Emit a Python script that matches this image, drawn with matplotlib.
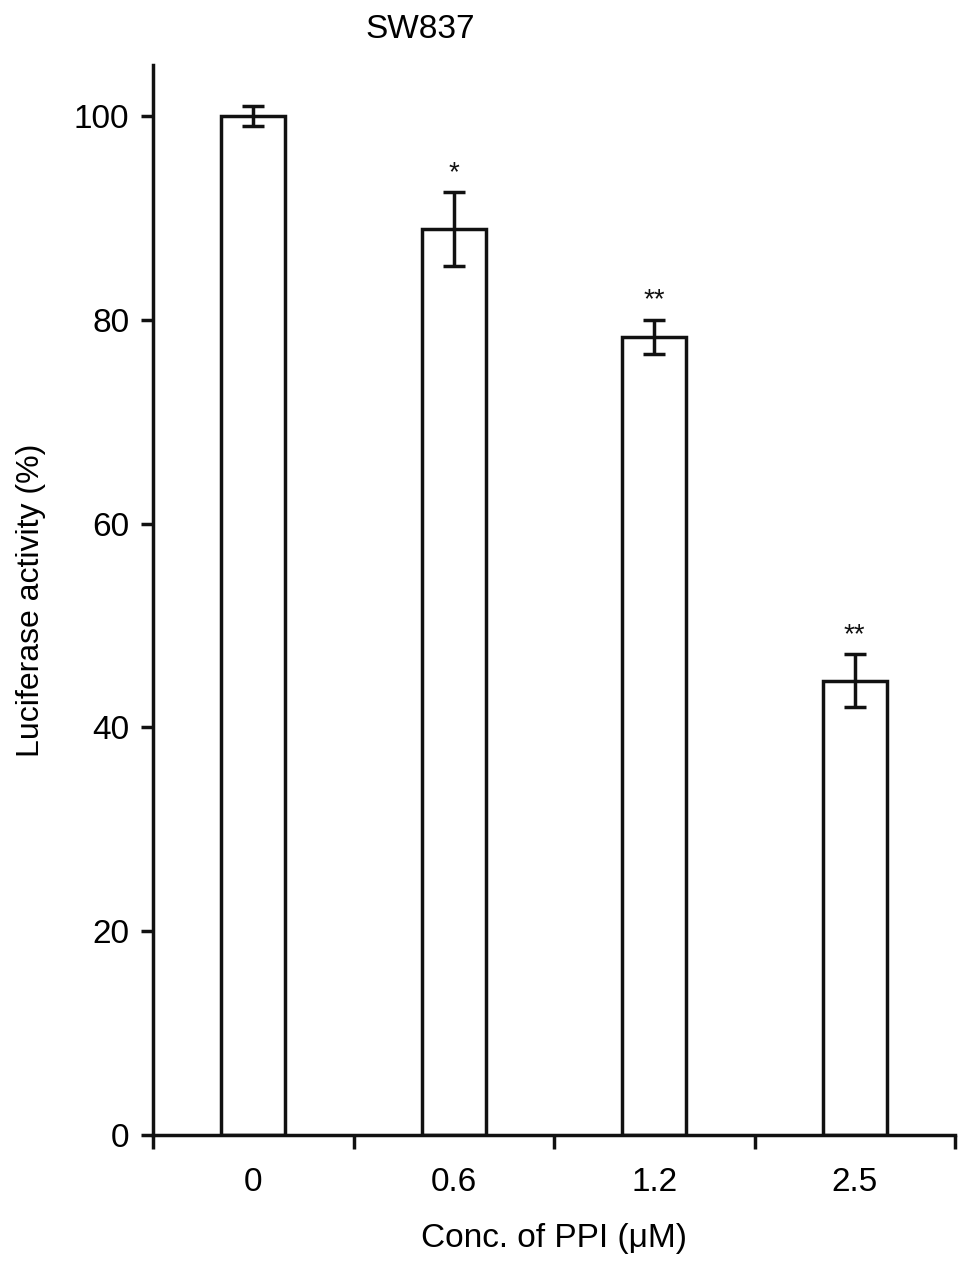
import matplotlib
matplotlib.use("Agg")
import matplotlib.pyplot as plt

plt.rcParams['font.family'] = ['Liberation Sans', 'DejaVu Sans']

categories = ["0", "0.6", "1.2", "2.5"]
values = [100.0, 88.9, 78.3, 44.6]
errors = [1.0, 3.6, 1.7, 2.6]
marks = ["", "*", "**", "**"]

fig = plt.figure(figsize=(9.69, 12.72), dpi=100)
ax = fig.add_axes([153/969, 1 - 1135/1272, (955-153)/969, (1135-65)/1272])

x = list(range(len(categories)))
lw = 2.5
ax.bar(x, values, width=0.32, color="white", edgecolor="#111111", linewidth=lw, zorder=2)
ax.errorbar(x, values, yerr=errors, fmt="none", ecolor="#111111", elinewidth=lw,
            capsize=8, capthick=lw, zorder=3)
for xi, v, e, m in zip(x, values, errors, marks):
    if m:
        ax.text(xi, v + e + 0.6, m, ha="center", va="bottom", fontsize=20, color="#111111")

ax.set_xlim(-0.5, 3.5)
ax.set_ylim(0, 105)
ax.spines['top'].set_visible(False)
ax.spines['right'].set_visible(False)
for s in ['left', 'bottom']:
    ax.spines[s].set_linewidth(lw)
    ax.spines[s].set_color("#111111")

ax.set_yticks([0, 20, 40, 60, 80, 100])
ax.tick_params(axis='y', direction='out', length=9, width=lw, labelsize=24, pad=8, color="#111111")
ax.set_xticks(x)
ax.set_xticklabels(categories)
ax.set_xticks([-0.5, 0.5, 1.5, 2.5, 3.5], minor=True)
ax.tick_params(axis='x', which='major', length=0, labelsize=24, pad=23)
ax.tick_params(axis='x', which='minor', direction='out', length=10, width=lw, color="#111111")

ax.set_ylabel("Luciferase activity (%)", fontsize=23, labelpad=20)
ax.set_xlabel("Conc. of PPI (\u03bcM)", fontsize=24, labelpad=18)
fig.text(420/969, 1 - 30/1272, "SW837", ha="center", va="center", fontsize=24)

fig.savefig("out.png", dpi=100)
